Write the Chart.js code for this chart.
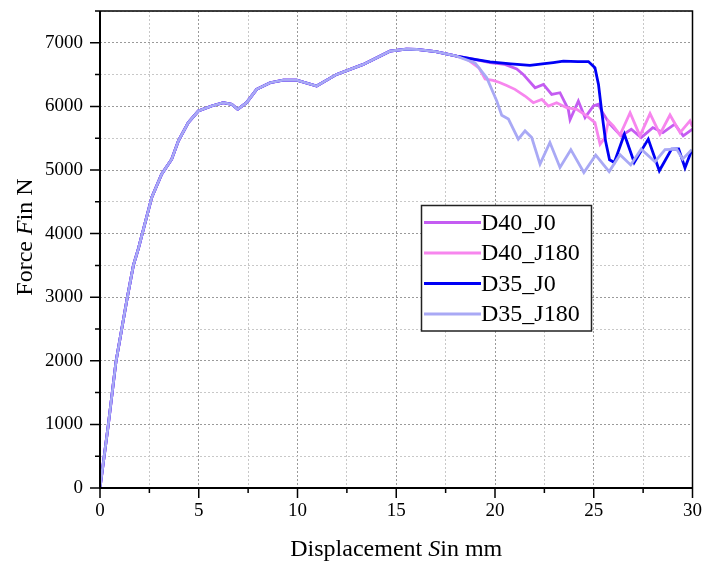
<!DOCTYPE html>
<html lang="en">

<head>
    <meta charset="UTF-8">
    <title>Force - Displacement</title>
    <script src="https://cdn.jsdelivr.net/npm/chart.js"></script>
    <style>
        body { margin: 0; background: #fff; }
        .box { position: relative; width: 702px; height: 564px; }
    </style>
</head>

<body>
    <div class="box">
        <canvas id="myChart"></canvas>
    </div>

<script>
    // common part of all four curves (until ~18 mm)
    const baseX = [0, 0.42, 0.81, 1.38, 1.69, 1.94, 2.62, 3.12, 3.63, 3.97, 4.47, 4.98, 5.65, 6.24, 6.67, 6.97, 7.42, 7.93, 8.61, 9.28, 9.96, 10.97, 11.98, 13.33, 14.68, 15.5, 16.03, 17.0, 18.06];
    const baseY = [0, 992, 1990, 2993, 3500, 3760, 4570, 4935, 5170, 5458, 5745, 5928, 6006, 6058, 6033, 5955, 6058, 6268, 6372, 6414, 6414, 6320, 6503, 6660, 6868, 6900, 6895, 6860, 6790];

    // tails after the curves split
    const d40j0X = [18.9, 19.75, 20.5, 21.1, 21.43, 22.03, 22.45, 22.87, 23.29, 23.71, 23.8, 24.22, 24.56, 24.98, 25.24, 25.45, 25.82, 26.39, 26.9, 27.4, 27.99, 28.5, 29.1, 29.53, 30];
    const d40j0Y = [6745, 6690, 6660, 6590, 6503, 6293, 6346, 6189, 6215, 5955, 5790, 6085, 5823, 6006, 6033, 5900, 5720, 5536, 5641, 5510, 5667, 5589, 5720, 5536, 5641];

    const d40j180X = [18.6, 19.2, 19.5, 19.9, 20.2, 20.59, 21.01, 21.52, 21.94, 22.37, 22.7, 23.12, 23.63, 24.14, 24.64, 25.06, 25.32, 25.57, 25.74, 25.99, 26.33, 26.84, 27.34, 27.85, 28.35, 28.86, 29.37, 29.87, 30];
    const d40j180Y = [6740, 6600, 6430, 6410, 6380, 6330, 6268, 6163, 6058, 6111, 6006, 6058, 5980, 5955, 5850, 5745, 5406, 5510, 5771, 5693, 5550, 5902, 5536, 5886, 5563, 5865, 5589, 5771, 5680];

    const d35j0X = [18.9, 19.75, 20.8, 21.77, 22.4, 22.95, 23.46, 24.2, 24.73, 25.06, 25.24, 25.4, 25.6, 25.8, 26.04, 26.55, 27.05, 27.76, 28.32, 28.94, 29.3, 29.62, 29.96];
    const d35j0Y = [6745, 6700, 6670, 6645, 6670, 6690, 6711, 6705, 6705, 6607, 6346, 5928, 5450, 5160, 5118, 5563, 5118, 5485, 4988, 5328, 5330, 5035, 5310];

    const d35j180X = [18.3, 18.99, 19.58, 20.09, 20.34, 20.68, 21.18, 21.52, 21.86, 22.28, 22.78, 23.29, 23.84, 24.5, 25.1, 25.78, 26.33, 26.87, 27.4, 28.1, 28.61, 29.2, 29.5, 29.96];
    const d35j180Y = [6760, 6685, 6450, 6085, 5860, 5800, 5485, 5615, 5510, 5093, 5432, 5040, 5320, 4960, 5235, 4975, 5240, 5080, 5328, 5130, 5320, 5328, 5170, 5320];

    const nomes = ['D40_J0', 'D40_J180', 'D35_J0', 'D35_J180'];
    const cores = ['#c45cf2', '#f786ee', '#0000f5', '#a9a9f5'];

    const fonte = '"Liberation Serif", "Times New Roman", serif';

    function pontos(xs, ys) {
        const lista = [];
        for (let i = 0; i < baseX.length; i++) lista.push({ x: baseX[i], y: baseY[i] });
        for (let i = 0; i < xs.length; i++) lista.push({ x: xs[i], y: ys[i] });
        return lista;
    }

    const series = [pontos(d40j0X, d40j0Y), pontos(d40j180X, d40j180Y), pontos(d35j0X, d35j0Y), pontos(d35j180X, d35j180Y)];

    const dados = {
        datasets: series.map((s, i) => ({
            label: nomes[i],
            data: s,
            borderColor: cores[i],
            borderWidth: 2.8,
            pointRadius: 0,
            tension: 0,
            fill: false,
            order: nomes.length - i   // last series drawn on top
        }))
    };

    // text with one italic piece, e.g. "Force F in N"
    function textoMisto(ctx, partes, tamanho) {
        let total = 0;
        partes.forEach(p => {
            ctx.font = (p.italico ? 'italic ' : '') + tamanho + 'px ' + fonte;
            p.w = ctx.measureText(p.t).width;
            total += p.w;
        });
        let x = -total / 2;
        partes.forEach(p => {
            ctx.font = (p.italico ? 'italic ' : '') + tamanho + 'px ' + fonte;
            ctx.fillText(p.t, x, 0);
            x += p.w;
        });
    }

    function semPadding(scale) {
        scale.paddingTop = 0;
        scale.paddingBottom = 0;
        scale.paddingLeft = 0;
        scale.paddingRight = 0;
    }

    const moldura = {
        id: 'moldura',
        afterDraw(chart) {
            const ctx = chart.ctx;
            const a = chart.chartArea;
            const sx = chart.scales.x, sy = chart.scales.y;
            ctx.save();
            ctx.strokeStyle = '#000';

            // frame
            ctx.lineWidth = 1.5;
            ctx.beginPath();
            ctx.moveTo(a.left, a.top); ctx.lineTo(a.right, a.top); ctx.lineTo(a.right, a.bottom);
            ctx.stroke();
            ctx.lineWidth = 2;
            ctx.beginPath();
            ctx.moveTo(a.left, a.top); ctx.lineTo(a.left, a.bottom); ctx.lineTo(a.right, a.bottom);
            ctx.stroke();

            // tick marks
            ctx.lineWidth = 1.5;
            ctx.beginPath();
            sx.ticks.forEach(t => {
                const px = sx.getPixelForValue(t.value);
                const len = t.value % 5 === 0 ? 10 : 5;
                ctx.moveTo(px, a.bottom); ctx.lineTo(px, a.bottom + len);
            });
            sy.ticks.forEach(t => {
                const py = sy.getPixelForValue(t.value);
                const len = t.value % 1000 === 0 ? 10 : 5;
                ctx.moveTo(a.left, py); ctx.lineTo(a.left - len, py);
            });
            ctx.stroke();

            // axis titles
            ctx.fillStyle = '#000';
            ctx.textBaseline = 'middle';
            ctx.save();
            ctx.translate((a.left + a.right) / 2, 550);
            textoMisto(ctx, [{ t: 'Displacement ' }, { t: 'S', italico: true }, { t: 'in mm' }], 24);
            ctx.restore();
            ctx.save();
            ctx.translate(26, 237);
            ctx.rotate(-Math.PI / 2);
            textoMisto(ctx, [{ t: 'Force ' }, { t: 'F', italico: true }, { t: 'in N' }], 24);
            ctx.restore();

            // legend
            const lx = 421.5, ly = 205.5, lw = 170, lh = 125.5;
            ctx.fillStyle = '#fff';
            ctx.fillRect(lx, ly, lw, lh);
            ctx.strokeStyle = '#222';
            ctx.lineWidth = 1.5;
            ctx.strokeRect(lx, ly, lw, lh);
            ctx.font = '24px ' + fonte;
            ctx.textAlign = 'left';
            dados.datasets.forEach((d, i) => {
                const cy = 222.5 + i * 30.5;
                ctx.strokeStyle = d.borderColor;
                ctx.lineWidth = 3;
                ctx.beginPath();
                ctx.moveTo(424, cy); ctx.lineTo(481, cy);
                ctx.stroke();
                ctx.fillStyle = '#000';
                ctx.fillText(d.label, 481, cy + 1);
            });
            ctx.restore();
        }
    };

    const config = {
        type: 'line',
        data: dados,
        options: {
            responsive: true,
            maintainAspectRatio: false,
            animation: false,
            layout: { padding: { top: 11, right: 9.5, left: 0, bottom: 0 } },
            plugins: { legend: { display: false }, tooltip: { enabled: false } },
            scales: {
                x: {
                    type: 'linear',
                    min: 0, max: 30,
                    afterFit(scale) { scale.height = 76; semPadding(scale); },
                    ticks: {
                        stepSize: 2.5,
                        autoSkip: false,
                        maxRotation: 0,
                        padding: 12,
                        color: '#000',
                        font: { family: fonte, size: 19 },
                        callback: v => v % 5 === 0 ? v : ''
                    },
                    grid: {
                        drawTicks: false,
                        lineWidth: 1,
                        color: c => c.tick && c.tick.value % 5 === 0 ? '#9a9a9a' : '#c8c8c8'
                    },
                    border: { display: false, dash: [2, 2] }
                },
                y: {
                    min: 0, max: 7500,
                    afterFit(scale) { scale.width = 100; semPadding(scale); },
                    ticks: {
                        stepSize: 500,
                        autoSkip: false,
                        padding: 17,
                        color: '#000',
                        font: { family: fonte, size: 19 },
                        callback: v => v % 1000 === 0 ? v : ''
                    },
                    grid: {
                        drawTicks: false,
                        lineWidth: 1,
                        color: c => c.tick && c.tick.value % 1000 === 0 ? '#9a9a9a' : '#c8c8c8'
                    },
                    border: { display: false, dash: [2, 2] }
                }
            }
        },
        plugins: [moldura]
    };

    let myChart = new Chart(document.getElementById('myChart'), config);
</script>
</body>

</html>
